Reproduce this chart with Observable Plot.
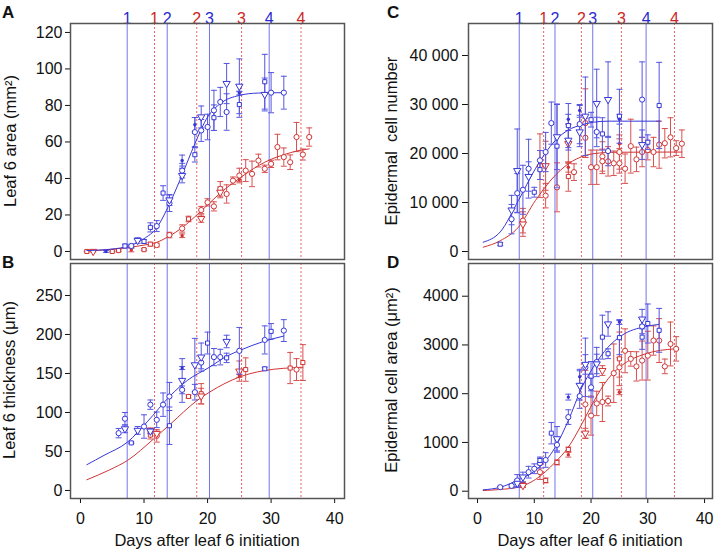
<!DOCTYPE html>
<html>
<head>
<meta charset="utf-8">
<script src="https://cdn.jsdelivr.net/npm/d3@7"></script>
<script src="https://cdn.jsdelivr.net/npm/@observablehq/plot@0.6"></script>
<style>
  html, body { margin: 0; padding: 0; background: #fff; }
  #root { position: relative; width: 714px; height: 550px; overflow: hidden; background: #fff; }
  .pane { position: absolute; }
  #overlay { position: absolute; left: 0; top: 0; pointer-events: none; }
</style>
</head>
<body>
<div id="root"></div>
<script>
// ---------- stage markers ----------
const stageNames = ["1", "2", "3", "4"];
const blueStages = [7.35, 13.65, 20.3, 29.7];
const redStages = [11.65, 18.3, 25.35, 34.7];

// ---------- Panel A: Leaf 6 area (mm²) ----------
const aBlueDay = [4,7,8,9,10,11,12,13,14,14,16,16,16,18,18,18,19,19,20,21,21,22,23,23,25,25,25,29,29,30,32];
const aBlueVal = [0,3,3,6,5.5,13.2,13.9,32,28.2,26.4,49.8,44.3,41.6,69.4,65.4,53,73.7,66.3,68.2,77.3,73.3,81.9,92,76.4,90.5,86.8,80.5,93,86,87,87];
const aBlueErr = [0.5,1,1,1.5,1,2.5,3,4,3,4.5,3,4,4,4,8,4,6,6,7,11,7,8,11,10,15,1,7,15,9,11,9];
const aBlueSym = ["d","s","o","v","s","s","o","s","v","o","d","o","v","d","o","s","v","o","o","o","s","o","v","o","v","d","s","s","v","o","o"];
const aRedDay = [1,2,5,6,8,10,11,12,14,16,16,17,19,19,20,21,22,22,23,24,25,25,26,27,28,29,30,31,32,33,34,35,36];
const aRedVal = [0,0,0,0.5,0.8,1,4,3.5,9,12.6,8.6,17.8,22.7,18,26.9,24.7,34.3,32.4,31.5,38.8,41.6,39.4,44.3,42.5,49.8,45.3,48,57.2,51.7,48.9,62.7,53.1,62.7];
const aRedErr = [0.3,0.3,0.3,0.5,1,0.5,1,1,1.5,2,1,1.5,2,2,2,2.5,4,3,5,2,4,1,6,7,3.5,2,2,7,5,4,8,3,5];
const aRedSym = ["s","v","s","s","d","s","s","o","o","o","d","s","o","v","o","o","o","v","o","o","o","d","o","o","o","o","o","o","o","o","o","o","o"];
const aBlueFitDay = [1,4,7,10,12,14,16,18,20,22,25,28,32];
const aBlueFitVal = [0.5,1,2.5,7,13,26,42,59,73.6,81,85.5,86.8,87];
const aRedFitDay = [1,6,10,12,14,16,18,20,22,25,28,30,32,34,36];
const aRedFitVal = [0.3,1.5,3.5,5,8.5,13,19,25.5,32,40,47,50.5,53,55,56.2];
const aTicks = [0,20,40,60,80,100,120];

// ---------- Panel B: Leaf 6 thickness (µm) ----------
const bBlueDay = [6,7,7,8,9,10,11,11,12,13,14,14,16,16,16,18,18,19,19,20,21,22,23,23,25,29,29,30,32];
const bBlueVal = [73.5,92,79,61,77,82,110,76,90.6,110,120.5,83,157,141,129,161,126,171,164,189,171,171,191,170,179,193,156,204,205];
const bBlueErr = [6,8,5,1,5,15,6,3,10,15,18,24,2,28,5,34,10,18,8,14,11,10,8,6,30,18,2,10,14];
const bBlueSym = ["o","o","v","s","v","o","o","v","o","o","o","s","d","v","o","v","o","v","o","s","o","o","v","s","o","o","s","s","o"];
const bRedDay = [11,11,12,12,17,19,19,25,25,26,33,34,35];
const bRedVal = [77,71,70,73,120.5,121,124,153,147,155,157,155,164];
const bRedErr = [3,5,8,3,2,10,13,13,2,15,20,14,23];
const bRedSym = ["v","s","o","v","s","v","s","v","d","s","s","o","s"];
const bBlueFitDay = [1,3.7,7.4,10.5,14.2,16.8,20.3,23,25.2,28.8,32];
const bBlueFitVal = [33,45,62,88,122,141,158,172,180,191,198];
const bRedFitDay = [1,4.6,7.4,11.5,14.2,18.3,20.3,25.2,28.8,35];
const bRedFitVal = [13.7,26.5,38.5,66,85.5,115,126,146,153.5,158];
const bTicks = [0,50,100,150,200,250];

// ---------- Panel C: Epidermal cell number ----------
const cBlueDay = [4,6,6,7,7,8,9,9,10,11,11,12,13,14,14,16,16,16,18,18,18,19,20,21,21,22,23,23,25,25,29,29,30,32];
const cBlueVal = [1500,8460,6600,16500,11900,12600,16900,15300,12100,18600,16700,20300,26200,23400,21500,25700,27000,22700,28800,26000,24400,27600,26900,30200,24400,24000,31000,20500,27600,27000,31000,21800,22300,29800];
const cBlueErr = [300,3000,3000,8500,4000,5000,6000,3000,1000,2000,2000,4000,4300,6700,8500,4500,1000,2000,1000,4000,3000,8000,1500,7000,3000,3300,7700,3000,5500,1000,7700,3000,1500,8800];
const cBlueSym = ["s","v","o","v","o","o","o","v","s","o","s","o","o","v","s","s","d","v","d","o","v","v","s","v","o","s","v","o","s","d","o","v","s","s"];
const cRedDay = [8,8,11,12,12,14,16,16,16,17,19,19,20,21,22,22,23,24,25,25,25,26,27,28,29,30,31,32,33,34,35,36];
const cRedVal = [5600,6300,17500,17500,11400,13100,22000,17200,15300,16200,26200,23200,17200,17200,19400,18400,18400,18000,18000,22000,20300,16900,21500,18800,20300,20700,20300,21800,22100,23300,21100,22000];
const cRedErr = [2500,2500,6500,5000,2500,5000,4000,1000,3000,1700,7000,4000,3500,3500,3000,2500,3000,2500,2000,1000,3500,3000,5500,2500,3000,2000,3000,4800,3000,4000,1500,2800];
const cRedSym = ["v","o","o","v","o","o","v","d","s","o","o","o","o","o","o","o","o","o","o","d","o","o","o","o","o","o","o","o","o","o","o","o"];
const cBlueFitDay = [1,4,7.2,10.2,13.7,16,18.4,20.5,23,32.2];
const cBlueFitVal = [1900,4000,10400,16900,22650,24800,25850,26400,26600,26600];
const cRedFitDay = [1,4,7.2,10.2,13.1,16,19,21.5,24,36];
const cRedFitVal = [880,2200,4960,10400,14800,17900,19600,20100,20250,20300];
const cTicks = [0,10000,20000,30000,40000];

// ---------- Panel D: Epidermal cell area (µm²) ----------
const dBlueDay = [4,6,7,7,8,9,10,11,11,12,13,14,14,16,16,18,18,18,19,19,20,20,21,21,22,23,23,25,25,29,29,29,30,32];
const dBlueVal = [82,110,220,160,290,390,460,575,630,640,1190,1075,950,1930,1520,2350,2170,1950,2540,2600,2360,2130,2610,2650,3160,3430,2820,3470,3150,3530,3380,3160,3440,3300];
const dBlueErr = [20,30,120,80,100,120,100,100,70,150,220,250,150,60,150,150,300,250,600,200,300,200,200,300,450,250,100,50,350,200,150,250,400,450];
const dBlueSym = ["o","o","o","v","v","o","o","o","s","o","s","v","o","d","o","d","v","o","o","v","s","o","v","o","s","v","s","d","s","v","o","s","s","s"];
const dRedDay = [8,8,11,12,14,16,16,19,19,20,21,22,22,23,24,25,25,25,26,27,28,29,30,31,32,33,34,35];
const dRedVal = [137,115,390,220,590,855,750,1190,1780,1550,1800,2475,1830,1850,2420,2715,2540,2030,2880,2715,2560,2680,2780,3090,3090,2560,3020,2920];
const dRedErr = [50,40,150,50,50,50,50,100,700,400,250,100,400,100,600,550,200,50,450,150,300,400,500,300,450,150,450,250];
const dRedSym = ["s","v","o","s","s","s","d","v","o","o","o","v","o","o","o","s","o","d","o","o","o","o","o","o","o","o","o","o"];
const dBlueFitDay = [1,4,7.2,10.2,13.7,16,18.4,20.4,23,25.4,29.6,31.9];
const dBlueFitVal = [28,80,233,425,903,1450,2133,2544,2954,3194,3378,3420];
const dRedFitDay = [1,4,7.2,10.2,13.7,16,18.4,20.4,23,25.4,29.6,34.8];
const dRedFitVal = [14,35,82,240,595,903,1382,1826,2305,2578,2818,2921];
const dTicks = [0,1000,2000,3000,4000];

const xTicks = [0,10,20,30,40];

// ---------- styling ----------
const FONT = '"Liberation Sans", Arial, Helvetica, sans-serif';
const BLUE = "#3636d8", RED = "#d03434";
const BLUE_BAR = "#5656e0", RED_BAR = "#d85050";
const BLUE_STAGE = "#7474ee", RED_STAGE = "#e26464";
const BLUE_LABEL = "#2a2ad2", RED_LABEL = "#cc2626";

const rows = (day, val, err, sym) => day.map((d, i) => ({day: d, val: val[i], err: err[i], sym: sym[i]}));
const fitRows = (day, val) => day.map((d, i) => ({day: d, val: val[i]}));

const capSymbol = {
  draw(ctx, size) {
    const w = Math.sqrt(size / Math.PI);
    ctx.moveTo(-w, 0);
    ctx.lineTo(w, 0);
  }
};

function seriesMarks(data, fit, color, barColor) {
  const up = d => d.val + d.err, lo = d => d.val - d.err;
  return [
    Plot.ruleX(data, {x: "day", y1: lo, y2: up, stroke: barColor, strokeWidth: 1}),
    Plot.dot(data, {x: "day", y: up, symbol: capSymbol, r: 3, stroke: barColor, fill: "none", strokeWidth: 1}),
    Plot.dot(data, {x: "day", y: lo, symbol: capSymbol, r: 3, stroke: barColor, fill: "none", strokeWidth: 1}),
    Plot.line(fit, {x: "day", y: "val", stroke: color, strokeWidth: 1, curve: "monotone-x"}),
    Plot.dot(data.filter(d => d.sym === "o"), {x: "day", y: "val", r: 2.6, stroke: color, fill: "white", strokeWidth: 1}),
    Plot.dot(data.filter(d => d.sym === "s"), {x: "day", y: "val", symbol: "square", r: 2.3, stroke: color, fill: "white", strokeWidth: 1}),
    Plot.dot(data.filter(d => d.sym === "v"), {x: "day", y: "val", symbol: "triangle", rotate: 180, r: 2.7, stroke: color, fill: "white", strokeWidth: 1}),
    Plot.dot(data.filter(d => d.sym === "d"), {x: "day", y: "val", r: 1.7, fill: color, stroke: "none"})
  ];
}

function panel(cfg) {
  const marks = [
    Plot.ruleX(blueStages, {stroke: BLUE_STAGE, strokeWidth: 1}),
    Plot.ruleX(redStages, {stroke: RED_STAGE, strokeWidth: 1, strokeDasharray: "2,2"})
  ];
  if (cfg.stageText) {
    marks.push(Plot.text(blueStages, {x: d => d, text: (d, i) => stageNames[i], frameAnchor: "top", dy: -11, fill: BLUE_LABEL, fontSize: 16}));
    marks.push(Plot.text(redStages, {x: d => d, text: (d, i) => stageNames[i], frameAnchor: "top", dy: -11, fill: RED_LABEL, fontSize: 16}));
  }
  marks.push(...seriesMarks(cfg.red, cfg.redFit, RED, RED_BAR));
  marks.push(...seriesMarks(cfg.blue, cfg.blueFit, BLUE, BLUE_BAR));
  marks.push(Plot.frame({stroke: "#555", strokeWidth: 1.5}));
  return Plot.plot({
    width: cfg.width, height: cfg.height,
    marginLeft: cfg.ml, marginRight: cfg.mr, marginTop: cfg.mt, marginBottom: cfg.mb,
    style: {fontFamily: FONT, fontSize: "16px", color: "#111", background: "transparent", overflow: "visible"},
    x: cfg.showX
      ? {domain: cfg.xdomain, ticks: xTicks, tickSize: 5, tickPadding: 9, label: null}
      : {domain: cfg.xdomain, axis: null},
    y: {domain: cfg.ydomain, ticks: cfg.yticks, tickFormat: cfg.yfmt, tickSize: cfg.tickSize, tickPadding: cfg.tickPad, label: null},
    marks
  });
}

const root = document.getElementById("root");
function place(node, left, top) {
  const div = document.createElement("div");
  div.className = "pane";
  div.style.left = left + "px";
  div.style.top = top + "px";
  div.appendChild(node);
  root.appendChild(div);
}

const spaceFmt = d => d3.format(",")(d).replace(/,/g, " ");
const plainFmt = d3.format("d");
const leftX = [-1.57, 41.55];
const rightX = [-1.59, 41.4];

place(panel({
  width: 357, height: 260, ml: 70, mr: 13, mt: 23, mb: 1,
  xdomain: leftX, ydomain: [-4.4, 124.9], yticks: aTicks, yfmt: plainFmt, tickSize: 5, tickPad: 3,
  blue: rows(aBlueDay, aBlueVal, aBlueErr, aBlueSym), red: rows(aRedDay, aRedVal, aRedErr, aRedSym),
  blueFit: fitRows(aBlueFitDay, aBlueFitVal), redFit: fitRows(aRedFitDay, aRedFitVal),
  stageText: true, showX: false
}), 0, 0);

place(panel({
  width: 357, height: 290, ml: 70, mr: 13, mt: 3, mb: 52,
  xdomain: leftX, ydomain: [-10.3, 291], yticks: bTicks, yfmt: plainFmt, tickSize: 5, tickPad: 3,
  blue: rows(bBlueDay, bBlueVal, bBlueErr, bBlueSym), red: rows(bRedDay, bRedVal, bRedErr, bRedSym),
  blueFit: fitRows(bBlueFitDay, bBlueFitVal), redFit: fitRows(bRedFitDay, bRedFitVal),
  stageText: false, showX: true
}), 0, 260);

place(panel({
  width: 357, height: 260, ml: 111, mr: 2, mt: 23, mb: 1,
  xdomain: rightX, ydomain: [-1630, 46530], yticks: cTicks, yfmt: spaceFmt, tickSize: 6, tickPad: 4,
  blue: rows(cBlueDay, cBlueVal, cBlueErr, cBlueSym), red: rows(cRedDay, cRedVal, cRedErr, cRedSym),
  blueFit: fitRows(cBlueFitDay, cBlueFitVal), redFit: fitRows(cRedFitDay, cRedFitVal),
  stageText: true, showX: false
}), 357, 0);

place(panel({
  width: 357, height: 290, ml: 111, mr: 2, mt: 3, mb: 52,
  xdomain: rightX, ydomain: [-150, 4671], yticks: dTicks, yfmt: plainFmt, tickSize: 6, tickPad: 4,
  blue: rows(dBlueDay, dBlueVal, dBlueErr, dBlueSym), red: rows(dRedDay, dRedVal, dRedErr, dRedSym),
  blueFit: fitRows(dBlueFitDay, dBlueFitVal), redFit: fitRows(dRedFitDay, dRedFitVal),
  stageText: false, showX: true
}), 357, 260);

// ---------- overlay: panel letters and axis titles ----------
const svgNS = "http://www.w3.org/2000/svg";
const overlay = document.createElementNS(svgNS, "svg");
overlay.setAttribute("id", "overlay");
overlay.setAttribute("width", 714);
overlay.setAttribute("height", 550);
overlay.style.fontFamily = FONT;
root.appendChild(overlay);

function addText(str, x, y, opts = {}) {
  const t = document.createElementNS(svgNS, "text");
  t.setAttribute("x", 0);
  t.setAttribute("y", 0);
  t.setAttribute("transform", `translate(${x},${y})` + (opts.rotate ? ` rotate(${opts.rotate})` : ""));
  t.setAttribute("font-size", opts.size || 16.5);
  if (opts.bold) t.setAttribute("font-weight", "bold");
  t.setAttribute("text-anchor", opts.anchor || "start");
  t.setAttribute("fill", "#111");
  t.setAttribute("xml:space", "preserve");
  t.style.whiteSpace = "pre";
  t.textContent = str;
  overlay.appendChild(t);
  return t;
}

const panelLetters = [["A", 2, 18], ["B", 2, 268], ["C", 387, 18], ["D", 387, 268]];
panelLetters.forEach(([s, x, y]) => addText(s, x, y, {bold: true, size: 17}));

const yTitles = [
  ["Leaf 6 area (mm\u00B2)", 16, 141],
  ["Leaf 6 thickness (\u03BCm)", 15, 380],
  ["Epidermal  cell number", 397, 141],
  ["Epidermal cell area (\u03BCm\u00B2)", 397, 380]
];
yTitles.forEach(([s, x, y]) => addText(s, x, y, {rotate: -90, anchor: "middle"}));

const xTitle = "Days after leaf 6 initiation";
addText(xTitle, 207, 546, {anchor: "middle"});
addText(xTitle, 590, 546, {anchor: "middle"});
</script>
</body>
</html>
